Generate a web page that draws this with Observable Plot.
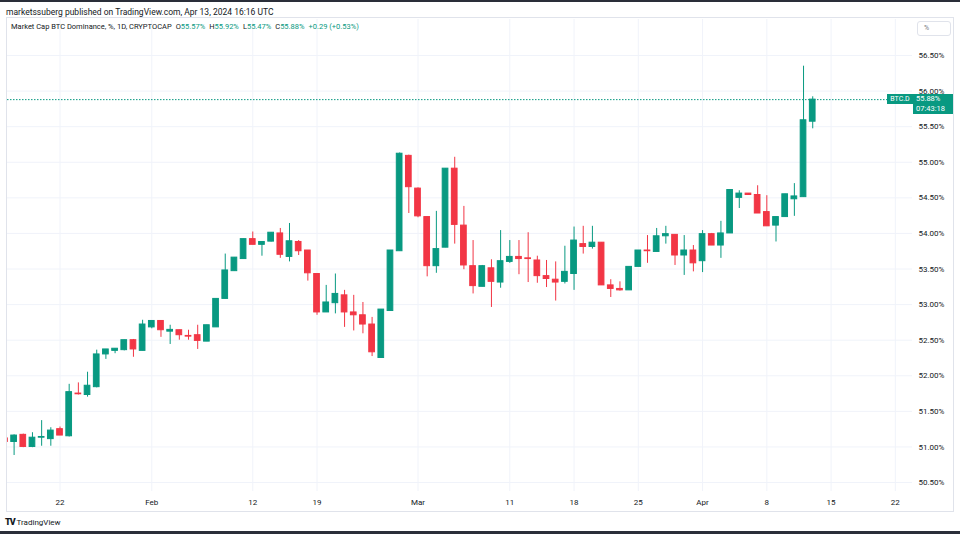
<!DOCTYPE html>
<html><head><meta charset="utf-8">
<script src="https://cdn.jsdelivr.net/npm/d3@7"></script>
<script src="https://cdn.jsdelivr.net/npm/@observablehq/plot@0.6"></script>
<style>
body{margin:0;background:#fff;font-family:Roboto,"Liberation Sans",sans-serif;}
#page{position:relative;width:960px;height:534px;overflow:hidden;background:#fff;color:#131722}
.abs{position:absolute;white-space:nowrap}
.item{display:inline-block;margin-left:4px}
</style></head><body><div id="page"></div>
<script>
// ---- data (daily candles, CRYPTOCAP:BTC.D) ----
const startDate = "2024-01-16";
const open  = [51.12,51.07,51.17,51.00,51.13,51.11,51.25,51.15,51.75,51.73,51.84,52.30,52.35,52.36,52.50,52.35,
  52.68,52.77,52.62,52.64,52.56,52.57,52.48,52.68,53.08,53.47,53.64,53.92,53.84,53.885,54.00,53.67,53.88,53.76,53.43,52.89,53.02,53.13,52.89,52.85,52.72,52.25,52.91,53.75,55.09,
  54.63,54.23,53.54,53.80,54.91,54.11,53.54,53.25,53.51,53.31,53.60,53.67,53.65,53.62,53.40,53.35,53.32,53.43,53.85,53.81,53.87,53.27,53.22,53.20,53.53,53.76,53.74,53.96,53.98,53.69,53.76,
  53.61,53.99,53.83,54.00,54.50,54.56,54.54,54.30,54.11,54.23,54.48,54.51,55.57];
const high  = [51.15,51.17,51.18,51.20,51.37,51.27,51.28,51.88,51.90,52.05,52.36,52.37,52.38,52.50,52.51,52.78,
  52.77,52.77,52.71,52.64,52.64,52.71,52.71,53.08,53.71,53.66,53.92,54.02,53.88,54.01,54.07,54.14,53.90,53.76,53.43,53.27,53.43,53.20,53.13,53.03,52.82,52.93,53.76,55.13,55.10,
  54.64,54.23,54.31,54.91,55.07,54.38,53.90,53.55,53.63,54.04,53.90,53.90,54.01,53.68,53.62,53.60,53.82,54.09,54.10,54.10,53.87,53.35,53.32,53.53,53.76,53.97,54.07,54.10,53.98,53.97,53.83,
  54.04,54.00,54.17,54.61,54.60,54.56,54.67,54.53,54.23,54.55,54.70,56.35,55.92];
const low   = [51.03,50.88,50.99,50.99,51.01,51.01,51.16,51.14,51.73,51.70,51.83,52.23,52.31,52.35,52.26,52.35,
  52.66,52.54,52.44,52.50,52.50,52.37,52.48,52.68,53.08,53.47,53.64,53.84,53.68,53.88,53.65,53.60,53.69,53.33,52.85,52.89,52.87,52.68,52.63,52.59,52.27,52.25,52.91,53.75,54.28,
  54.22,53.39,53.44,53.80,53.85,53.49,53.15,53.25,52.96,53.23,53.58,53.42,53.31,53.30,53.24,53.05,53.29,53.20,53.71,53.78,53.27,53.10,53.19,53.20,53.53,53.58,53.74,53.85,53.55,53.41,53.46,
  53.45,53.83,53.65,54.00,54.35,54.54,54.28,54.10,53.88,54.23,54.24,54.51,55.47];
const close = [51.07,51.16,51.00,51.13,51.14,51.23,51.16,51.77,51.74,51.86,52.30,52.37,52.38,52.50,52.37,52.72,
  52.77,52.64,52.645,52.57,52.55,52.49,52.71,53.08,53.48,53.66,53.92,53.84,53.88,54.01,53.70,53.89,53.75,53.44,52.89,53.03,53.15,52.89,52.85,52.72,52.33,52.93,53.76,55.12,54.65,
  54.24,53.54,53.78,54.91,54.12,53.55,53.26,53.54,53.32,53.61,53.67,53.64,53.64,53.40,53.36,53.31,53.46,53.90,53.81,53.87,53.27,53.22,53.20,53.53,53.76,53.75,53.96,53.99,53.69,53.76,53.58,
  53.99,53.83,54.00,54.61,54.56,54.54,54.28,54.10,54.23,54.55,54.52,55.59,55.88];
const yTicks = [50.5,51,51.5,52,52.5,53,53.5,54,54.5,55,55.5,56,56.5];
const xTickDates  = ["2024-01-22","2024-02-01","2024-02-12","2024-02-19","2024-03-01","2024-03-11","2024-03-18","2024-03-25","2024-04-01","2024-04-08","2024-04-15","2024-04-22"];
const xTickLabels = ["22","Feb","12","19","Mar","11","18","25","Apr","8","15","22"];
const publishedText = "marketssuberg published on TradingView.com, Apr 13, 2024 16:16 UTC";
const titleText = "Market Cap BTC Dominance, %, 1D, CRYPTOCAP";
const ohlcLabels = ["O","H","L","C"];
const ohlcText = ["55.57%","55.92%","55.47%","55.88%"];
const changeText = "+0.29 (+0.53%)";
const symbolText = "BTC.D";
const countdownText = "07:43:18";

// ---- build ----
const GREEN = "#089981", RED = "#F23645";
const DAY = 864e5;
const t0 = new Date(startDate + "T00:00Z");
const data = open.map((o, i) => ({
  date: new Date(+t0 + i * DAY), open: o, high: high[i], low: low[i], close: close[i],
  color: close[i] >= o ? GREEN : RED
}));
const xTicks = xTickDates.map(s => new Date(s + "T00:00Z"));
const tickFmt = d => xTickLabels[xTicks.findIndex(t => +t === +d)] ?? "";
const ref = xTicks[0];
const xDomain = [new Date(+ref - 5.72 * DAY), new Date(+ref + 92.87 * DAY)];
const last = data[data.length - 1];

const page = document.getElementById("page");
function add(html, style) {
  const d = document.createElement("div");
  d.className = "abs"; d.innerHTML = html; Object.assign(d.style, style); page.appendChild(d); return d;
}
// dark bars
add("", {left:"0px", top:"0px", width:"960px", height:"2px", background:"#2a2e39"});
add("", {left:"0px", top:"531px", width:"960px", height:"3px", background:"#2a2e39"});
// chart frame
add("", {left:"6px", top:"17px", width:"946px", height:"493px", border:"1px solid #e0e3eb"});

const SVG_TOP = 18;
const chart = Plot.plot({
  width: 960, height: 493,
  marginLeft: 7, marginRight: 48, marginTop: 1, marginBottom: 20,
  style: {fontFamily: "Roboto, 'Liberation Sans', sans-serif", fontSize: "8px", color: "#131722", background: "transparent"},
  x: {type: "utc", domain: xDomain},
  y: {domain: [50.374, 57.006]},
  marks: [
    Plot.gridX(xTicks, {stroke: "#f0f3fa", strokeOpacity: 1}),
    Plot.gridY(yTicks, {stroke: "#f0f3fa", strokeOpacity: 1}),
    Plot.axisX({ticks: xTicks, tickSize: 0, tickPadding: 8, tickFormat: tickFmt}),
    Plot.axisY({anchor: "right", ticks: yTicks, tickSize: 0, tickPadding: 6, tickFormat: d => d.toFixed(2) + "%"}),
    Plot.ruleY([last.close], {stroke: GREEN, strokeDasharray: "1.5,1.5", strokeWidth: 1}),
    Plot.ruleX(data, {x: "date", y1: "low", y2: "high", stroke: "color", strokeWidth: 1, clip: true}),
    Plot.rect(data, {
      x1: d => new Date(+d.date - 0.31 * DAY), x2: d => new Date(+d.date + 0.31 * DAY),
      y1: "open", y2: "close", fill: "color", stroke: "color", strokeWidth: 1, clip: true
    })
  ]
});
chart.style.position = "absolute";
chart.style.left = "0px";
chart.style.top = SVG_TOP + "px";
page.appendChild(chart);

// header texts
add(publishedText, {left:"6px", top:"7px", fontSize:"8.5px", lineHeight:"10px", color:"#131722"});
const ohlcHtml = ohlcLabels.map((l, i) => `<span class="item">${l}<span style="color:${GREEN}">${ohlcText[i]}</span></span>`).join("");
add(`${titleText}${ohlcHtml}<span class="item" style="color:${GREEN}">${changeText}</span>`,
    {left:"11px", top:"22px", fontSize:"7.5px", lineHeight:"10px", color:"#131722"});

// "%" box
add("%", {left:"917px", top:"21px", width:"26px", height:"13px", paddingLeft:"6px", border:"1px solid #e0e3eb",
  borderRadius:"3px", fontSize:"7px", lineHeight:"13px", color:"#787b86", background:"#fff"});

// last price labels
const yc = SVG_TOP + chart.scale("y").apply(last.close);
add(symbolText, {left:"887px", top:(yc - 5) + "px", width:"26px", height:"10px", background:GREEN, color:"#fff",
  fontSize:"7px", lineHeight:"10px", textAlign:"center"});
add(`${last.close.toFixed(2)}%<br>${countdownText}`, {left:"913px", top:(yc - 5) + "px", width:"40px", height:"20px",
  background:GREEN, color:"#fff", fontSize:"7.5px", lineHeight:"10px", paddingLeft:"3px", boxSizing:"border-box"});

// TradingView logo
add(`<span style="font-weight:900;font-size:9px;letter-spacing:-1px">TV</span> <span>TradingView</span>`,
  {left:"5px", top:"516px", fontSize:"8px", lineHeight:"12px", color:"#131722"});
</script></body></html>
